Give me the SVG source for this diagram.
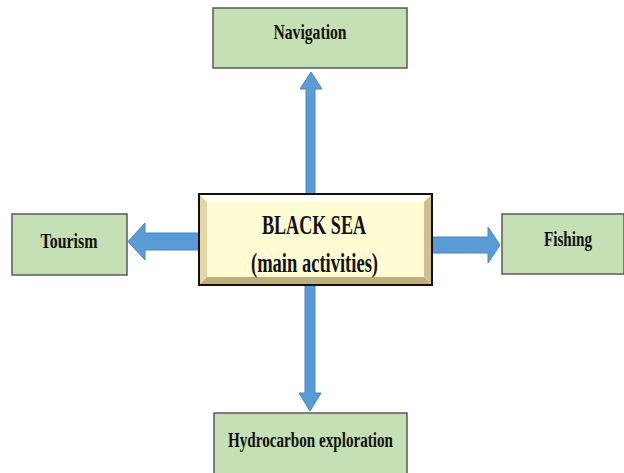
<svg xmlns="http://www.w3.org/2000/svg" width="624" height="473" viewBox="0 0 624 473">
<style>
.box{fill:#c5e0b4;stroke:#5a5a5a;stroke-width:1.5}
.arr{fill:#5b9bd5;stroke:#4a86be;stroke-width:1}
.lbl{font-family:"Liberation Serif","Times New Roman",serif;font-weight:bold;fill:#111;text-anchor:middle}
</style>
<defs>
<linearGradient id="cfill" x1="0" y1="0" x2="0" y2="1">
<stop offset="0" stop-color="#fffbe0"/>
<stop offset="1" stop-color="#fdf7c9"/>
</linearGradient>
</defs>
<rect width="624" height="473" fill="#fff"/>
<g id="connectors">
<polygon class="arr" points="306,195 306,89 300,89 311,72 322,89 315,89 315,195"/>
<polygon class="arr" points="305,285 315,285 315,393 321,393 310,411 299,393 305,393"/>
<polygon class="arr" points="200,233 145,233 145,223 128,241.5 145,260 145,250 200,250"/>
<polygon class="arr" points="432,237 488,237 488,227 500,245 488,263 488,253 432,253"/>
</g>
<g id="navigation">
<rect class="box" x="213" y="8" width="194" height="60"/>
<text class="lbl" x="310" y="39" font-size="20" textLength="73" lengthAdjust="spacingAndGlyphs">Navigation</text>
</g>
<g id="tourism">
<rect class="box" x="12" y="214" width="115" height="61"/>
<text class="lbl" x="69" y="248" font-size="20" textLength="57" lengthAdjust="spacingAndGlyphs">Tourism</text>
</g>
<g id="fishing">
<rect class="box" x="502" y="214" width="122" height="60"/>
<text class="lbl" x="568" y="246" font-size="20" textLength="48" lengthAdjust="spacingAndGlyphs">Fishing</text>
</g>
<g id="hydrocarbon">
<rect class="box" x="214" y="413" width="193" height="64"/>
<text class="lbl" x="310.5" y="447" font-size="20" textLength="165" lengthAdjust="spacingAndGlyphs">Hydrocarbon exploration</text>
</g>
<g id="blacksea">
<rect x="199" y="194" width="233" height="91" fill="url(#cfill)" stroke="#111" stroke-width="2"/>
<polygon points="200,195 431,195 424,202 207,202" fill="#fffef3"/>
<polygon points="200,195 207,202 207,277 200,284" fill="#e3d7a8"/>
<polygon points="431,195 431,284 424,277 424,202" fill="#cdbf8f"/>
<polygon points="200,284 431,284 424,277 207,277" fill="#bfae7c"/>
<rect x="207" y="202" width="217" height="75" fill="#fffbd2"/>
<text class="lbl" x="314" y="234" font-size="27" textLength="104" lengthAdjust="spacingAndGlyphs">BLACK SEA</text>
<text class="lbl" x="314.5" y="272" font-size="27" textLength="127" lengthAdjust="spacingAndGlyphs">(main activities)</text>
</g>
</svg>
